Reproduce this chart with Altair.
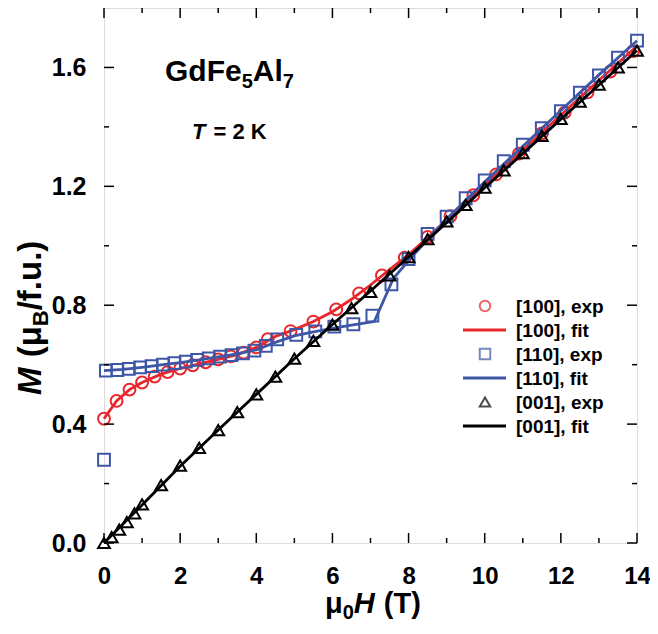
import altair as alt
import pandas as pd

# ---------------- data ----------------
H100_exp = [0.0, 0.33, 0.67, 1.0, 1.33, 1.67, 2.0, 2.33, 2.67, 3.0, 3.33, 3.67, 4.0, 4.3, 4.9, 5.5, 6.1, 6.7, 7.3, 7.9,
            8.5, 9.1, 9.7, 10.3, 10.9, 11.5, 12.1, 12.7, 13.3, 13.9]
M100_exp = [0.418, 0.478, 0.516, 0.540, 0.560, 0.575, 0.587, 0.598, 0.608, 0.618, 0.628, 0.640, 0.658, 0.686, 0.713,
            0.745, 0.786, 0.840, 0.900, 0.960, 1.030, 1.100, 1.170, 1.240, 1.310, 1.378, 1.448, 1.516, 1.586, 1.655]
H100_fit = [0, 0.33, 0.67, 1, 1.5, 2, 2.5, 3, 3.5, 4, 4.5, 5, 5.5, 6, 6.5, 7, 7.5, 8, 9, 10, 11, 12, 13, 14]
M100_fit = [0.418, 0.478, 0.516, 0.540, 0.568, 0.587, 0.603, 0.618, 0.634, 0.658, 0.695, 0.718, 0.745, 0.778, 0.820,
            0.868, 0.920, 0.970, 1.087, 1.205, 1.322, 1.440, 1.557, 1.672]

H110_exp = [0.0, 0.05, 0.35, 0.65, 0.95, 1.25, 1.55, 1.85, 2.15, 2.45, 2.75, 3.05, 3.35, 3.65, 3.95, 4.25, 4.55, 5.05,
            5.55, 6.05, 6.55, 7.05, 7.55, 8.0, 8.5, 9.0, 9.5, 10.0, 10.5, 11.0, 11.5, 12.0, 12.5, 13.0, 13.5, 14.0]
M110_exp = [0.28, 0.580, 0.582, 0.586, 0.591, 0.595, 0.600, 0.605, 0.610, 0.616, 0.621, 0.627, 0.632, 0.638, 0.647,
            0.663, 0.685, 0.700, 0.712, 0.728, 0.736, 0.765, 0.870, 0.955, 1.040, 1.098, 1.160, 1.220, 1.285, 1.340,
            1.396, 1.453, 1.515, 1.573, 1.633, 1.690]
H110_fit = [0, 0.5, 1, 1.5, 2, 2.5, 3, 3.5, 4, 4.5, 5, 5.5, 6, 6.5, 7.1, 7.6, 8.1, 9, 10, 11, 12, 13, 14]
M110_fit = [0.58, 0.584, 0.591, 0.599, 0.607, 0.616, 0.626, 0.636, 0.650, 0.675, 0.697, 0.710, 0.722, 0.733, 0.745,
            0.890, 0.965, 1.090, 1.215, 1.335, 1.455, 1.575, 1.690]

H001_exp = [0.0, 0.2, 0.4, 0.6, 0.8, 1.0, 1.5, 2.0, 2.5, 3.0, 3.5, 4.0, 4.5, 5.0, 5.5, 6.0, 6.5, 7.0, 7.5, 8.0, 8.5,
            9.0, 9.5, 10.0, 10.5, 11.0, 11.5, 12.0, 12.5, 13.0, 13.5, 14.0]
M001_exp = [0.0, 0.02, 0.045, 0.07, 0.10, 0.13, 0.195, 0.26, 0.32, 0.38, 0.44, 0.50, 0.56, 0.62, 0.68, 0.735, 0.79,
            0.845, 0.90, 0.962, 1.022, 1.082, 1.138, 1.196, 1.254, 1.312, 1.370, 1.427, 1.485, 1.542, 1.600, 1.657]
H001_fit = [0, 1, 2, 3, 4, 5, 6, 7, 8, 9, 10, 11, 12, 13, 14]
M001_fit = [0, 0.128, 0.258, 0.38, 0.50, 0.62, 0.735, 0.848, 0.962, 1.078, 1.195, 1.31, 1.426, 1.541, 1.657]

series_names = ["[100]", "[110]", "[001]"]
series_colors = ["#E8262B", "#3D56A6", "#000000"]
series_shapes = ["circle", "square", "triangle-up"]

legend_labels = ["[100], exp", "[100], fit", "[110], exp", "[110], fit", "[001], exp", "[001], fit"]

x_major = [0, 2, 4, 6, 8, 10, 12, 14]
x_minor = [1, 3, 5, 7, 9, 11, 13]
y_major = [0.0, 0.4, 0.8, 1.2, 1.6]
y_minor = [0.2, 0.6, 1.0, 1.4]

# ---------------- layout ----------------
W, Hh = 533, 535
PAD_L = 96
FONT = "Liberation Sans"
XDOM, YDOM = [0, 14], [0, 1.8]

AW = {" ": 278, "(": 333, ")": 333, "/": 278, ".": 278, "f": 333, "u": 611, "M": 833, "B": 722, "H": 722,
      "T": 611, "μ": 611, "0": 556, "5": 556, "7": 556, "2": 556, "G": 778, "d": 611, "F": 611, "e": 556,
      "A": 722, "l": 278, "K": 722, "=": 584}


def tw(s, size):
    return sum(AW.get(c, 556) for c in s) * size / 1000.0


def X(field="H"):
    return alt.X(f"{field}:Q", scale=alt.Scale(domain=XDOM, nice=False, zero=False),
                 axis=alt.Axis(values=x_major, ticks=False, domain=False, grid=False, title=None,
                               labelFont=FONT, labelFontSize=24, labelFontWeight="bold", labelColor="#000",
                               labelPadding=21, tickSize=0, labelFlush=False))


def Y(field="M"):
    return alt.Y(f"{field}:Q", scale=alt.Scale(domain=YDOM, nice=False),
                 axis=alt.Axis(values=y_major, format=".1f", ticks=False, domain=False, grid=False, title=None,
                               labelFont=FONT, labelFontSize=25, labelFontWeight="bold", labelColor="#000",
                               labelPadding=18, tickSize=0, labelFlush=False))


layers = []

exp_data = [(H100_exp, M100_exp), (H110_exp, M110_exp), (H001_exp, M001_exp)]
fit_data = [(H100_fit, M100_fit), (H110_fit, M110_fit), (H001_fit, M001_fit)]

for i in range(3):
    dfe = pd.DataFrame({"H": exp_data[i][0], "M": exp_data[i][1]})
    dff = pd.DataFrame({"H": fit_data[i][0], "M": fit_data[i][1]})
    layers.append(alt.Chart(dfe).mark_point(filled=False, strokeWidth=2, size=140, opacity=1,
                                            shape=series_shapes[i], color=series_colors[i])
                  .encode(x=X(), y=Y()))
    layers.append(alt.Chart(dff).mark_line(strokeWidth=2.8, color=series_colors[i])
                  .encode(x=X(), y=Y()))


# ---- inward tick marks on all four sides ----
def xt(vals, ln):
    d = pd.DataFrame({"H": vals})
    return [alt.Chart(d).mark_rule(color="#000", strokeWidth=1.5).encode(x=X(), y=alt.value(Hh), y2=alt.value(Hh - ln)),
            alt.Chart(d).mark_rule(color="#000", strokeWidth=1.5).encode(x=X(), y=alt.value(0), y2=alt.value(ln))]


def yt(vals, ln):
    d = pd.DataFrame({"M": vals})
    return [alt.Chart(d).mark_rule(color="#000", strokeWidth=1.5).encode(y=Y(), x=alt.value(0), x2=alt.value(ln)),
            alt.Chart(d).mark_rule(color="#000", strokeWidth=1.5).encode(y=Y(), x=alt.value(W - ln), x2=alt.value(W))]


layers += xt(x_major, 10) + xt(x_minor, 5) + yt(y_major, 10) + yt(y_minor, 5)

# ---- legend (page positions converted to plot coords) ----
LX_SYM, LX_L0, LX_L1, LX_TXT = 485 - 8 - PAD_L, 463 - 8 - PAD_L, 506 - 8 - PAD_L, 516 - 8 - PAD_L
LY0, LDY = 298, 24.0
for k, lab in enumerate(legend_labels):
    s = k // 2
    yy = LY0 + k * LDY
    d = pd.DataFrame({"label": [lab]})
    if k % 2 == 0:
        layers.append(alt.Chart(d).mark_point(filled=False, strokeWidth=2, size=110, shape=series_shapes[s],
                                              color=series_colors[s])
                      .encode(x=alt.value(LX_SYM), y=alt.value(yy)))
    else:
        layers.append(alt.Chart(d).mark_rule(strokeWidth=2.8, color=series_colors[s])
                      .encode(x=alt.value(LX_L0), x2=alt.value(LX_L1), y=alt.value(yy)))
    layers.append(alt.Chart(d).mark_text(align="left", baseline="middle", font=FONT, fontSize=19,
                                         fontWeight="bold", color="#000")
                  .encode(text="label:N", x=alt.value(LX_TXT), y=alt.value(yy + 1)))


# ---- rich text helpers ----
def piece(txt, x, y, size, italic=False, angle=0, align="left", baseline="alphabetic"):
    d = pd.DataFrame({"t": [txt]})
    kw = dict(align=align, baseline=baseline, font=FONT, fontSize=size, fontWeight="bold", color="#000")
    if italic:
        kw["fontStyle"] = "italic"
    if angle:
        kw["angle"] = angle
    return alt.Chart(d).mark_text(**kw).encode(text="t:N", x=alt.value(x), y=alt.value(y))


def px(page_x):
    return page_x - 8 - PAD_L


# compound title GdFe5Al7
TS, SS = 30, 20
tx, ty = px(165), 73
layers.append(piece("GdFe", tx, ty, TS)); tx += tw("GdFe", TS)
layers.append(piece("5", tx, ty + 7, SS)); tx += tw("5", SS)
layers.append(piece("Al", tx, ty, TS)); tx += tw("Al", TS)
layers.append(piece("7", tx, ty + 7, SS))

# T = 2 K
layers.append(piece("T", px(192), 131, 22, italic=True))
layers.append(piece("= 2 K", px(192) + tw("T", 22) + 8, 131, 22))

# x-axis title: μ0H (T)
XS, XSS = 29, 20
xx, xy = px(325), 605
layers.append(piece("μ", xx, xy, XS)); xx += tw("μ", XS)
layers.append(piece("0", xx, xy + 6, XSS)); xx += tw("0", XSS)
layers.append(piece("H", xx, xy, XS, italic=True)); xx += tw("H", XS) + 1 + tw(" ", XS)
layers.append(piece("(T)", xx, xy, XS))

# y-axis title: M (μB/f.u.)  rotated
YS, YSS = 33, 22
yx, yy0 = px(41), 387
layers.append(piece("M", yx, yy0, YS, italic=True, angle=270)); yy0 -= tw("M", YS) + 1 + tw(" ", YS)
layers.append(piece("(μ", yx, yy0, YS, angle=270)); yy0 -= tw("(μ", YS)
layers.append(piece("B", yx + 7, yy0, YSS, angle=270)); yy0 -= tw("B", YSS)
layers.append(piece("/f.u.)", yx, yy0, YS, angle=270))

chart = alt.layer(*layers).properties(
    width=W, height=Hh,
    autosize=alt.AutoSizeParams(type="none"),
    padding={"left": PAD_L, "top": 0, "right": 13, "bottom": 85},
).configure_view(stroke="#000", strokeWidth=2).configure(background="white")

chart.save("out.html", embed_options={"renderer": "svg", "actions": False})
